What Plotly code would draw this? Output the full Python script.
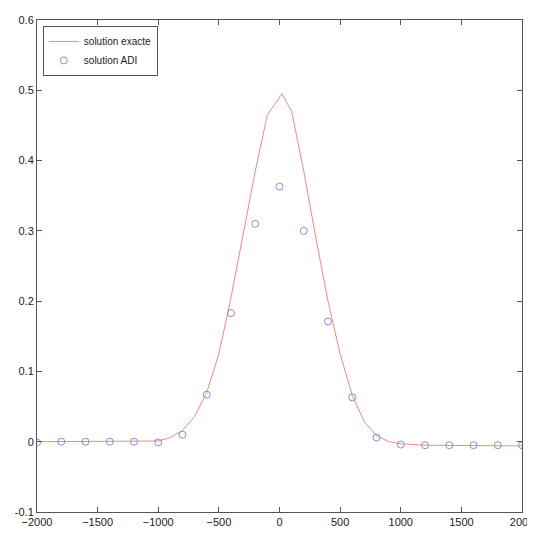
import plotly.graph_objects as go

# Exact solution
x_exact = [-2000, -1800, -1600, -1400, -1200, -1000, -900, -800, -700, -600, -500, -400,
           -300, -200, -100, 0, 20, 100, 200, 300, 400, 500, 600, 700, 800, 900, 1000,
           1200, 1400, 1600, 1800, 2000]
y_exact = [0.0, 0.0, 0.0, 0.0, 0.0, 0.001, 0.006, 0.016, 0.036, 0.07, 0.125, 0.205,
           0.295, 0.385, 0.465, 0.49, 0.495, 0.47, 0.385, 0.29, 0.2, 0.125, 0.066, 0.028, 0.009,
           0.0, -0.003, -0.005, -0.005, -0.006, -0.006, -0.006]

# ADI solution
x_adi = [-2000, -1800, -1600, -1400, -1200, -1000, -800, -600, -400, -200, 0,
         200, 400, 600, 800, 1000, 1200, 1400, 1600, 1800, 2000]
y_adi = [-0.001, 0.0, 0.0, 0.0, 0.0, -0.001, 0.01, 0.067, 0.183, 0.31, 0.363,
         0.30, 0.171, 0.063, 0.006, -0.004, -0.005, -0.005, -0.005, -0.005, -0.005]

x_ticks = [-2000, -1500, -1000, -500, 0, 500, 1000, 1500, 2000]
y_ticks = [-0.1, 0, 0.1, 0.2, 0.3, 0.4, 0.5, 0.6]
y_tick_text = ["-0.1", "0", "0.1", "0.2", "0.3", "0.4", "0.5", "0.6"]

fig = go.Figure()
fig.add_trace(go.Scatter(x=x_exact, y=y_exact, mode="lines", name="solution exacte",
                         line=dict(color="#f08a80", width=1)))
fig.add_trace(go.Scatter(x=x_adi, y=y_adi, mode="markers", name="solution ADI",
                         marker=dict(symbol="circle-open", size=7, color="#8a8ae0",
                                     line=dict(width=1))))

axis_common = dict(showgrid=False, zeroline=False, showline=True, linecolor="#555",
                   linewidth=1, mirror="ticks", ticks="inside", ticklen=5,
                   tickcolor="#555", automargin=False,
                   tickfont=dict(family="Liberation Sans, Arial", size=11, color="#222"))
fig.update_xaxes(range=[-2000, 2000], tickvals=x_ticks, **axis_common)
fig.update_yaxes(range=[-0.1, 0.6], tickvals=y_ticks, ticktext=y_tick_text, **axis_common)

fig.update_layout(
    width=527, height=527,
    margin=dict(l=29, r=13, t=12, b=23),
    paper_bgcolor="white", plot_bgcolor="white",
    legend=dict(x=0.012, y=0.988, xanchor="left", yanchor="top",
                bordercolor="#555", borderwidth=1, bgcolor="white",
                font=dict(family="Liberation Sans, Arial", size=10, color="#222"),
                tracegroupgap=0, itemwidth=30),
    showlegend=True,
)

fig.write_html("out.html")
